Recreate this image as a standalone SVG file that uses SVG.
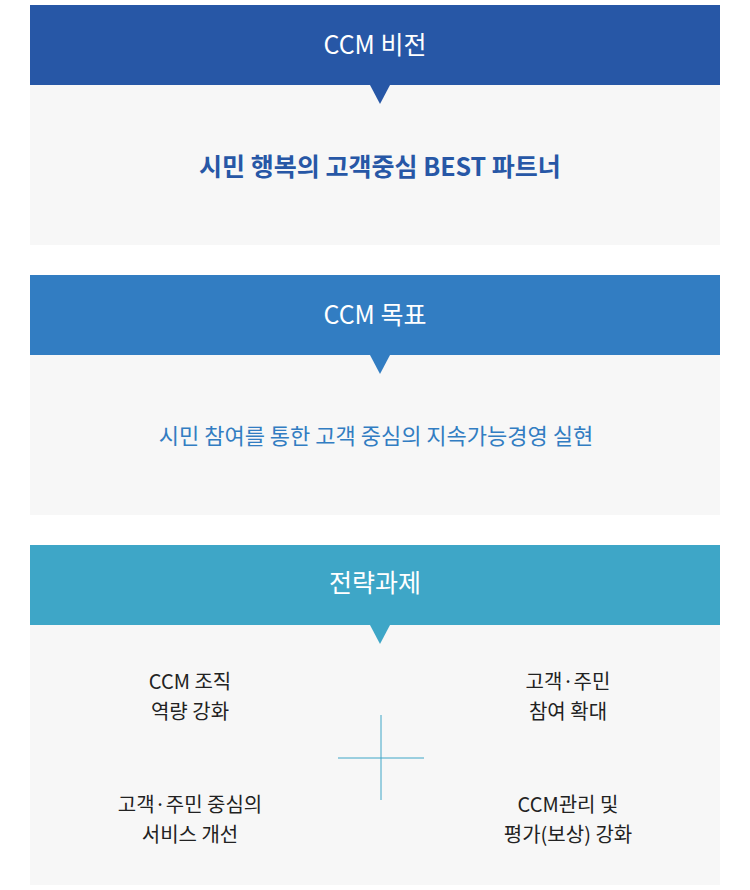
<svg xmlns="http://www.w3.org/2000/svg" width="750" height="890" viewBox="0 0 750 890">
<style>
.body{fill:#f7f7f7}
.h{font-family:"Noto Sans CJK KR","Noto Sans",sans-serif;font-size:25px;fill:#fff;text-anchor:middle}
.t{font-family:"Noto Sans CJK KR","Noto Sans",sans-serif;text-anchor:middle}
.s{font-family:"Noto Sans CJK KR","Noto Sans",sans-serif;font-size:20px;fill:#222;text-anchor:middle}
</style>
<rect width="750" height="890" fill="#fff"/>
<g id="vision">
<rect class="body" x="30" y="85" width="690" height="160"/>
<rect x="30" y="5" width="690" height="80" fill="#2757a6"/>
<polygon points="370,85 390,85 380,104" fill="#2757a6"/>
<text class="h" x="375" y="54">CCM 비전</text>
<text class="t" x="380" y="176" font-size="25" font-weight="bold" fill="#2757a6">시민 행복의 고객중심 BEST 파트너</text>
</g>
<g id="goal">
<rect class="body" x="30" y="355" width="690" height="160"/>
<rect x="30" y="275" width="690" height="80" fill="#327dc2"/>
<polygon points="370,355 390,355 380,374" fill="#327dc2"/>
<text class="h" x="375" y="324">CCM 목표</text>
<text class="t" x="376" y="444" font-size="22" fill="#327dc2">시민 참여를 통한 고객 중심의 지속가능경영 실현</text>
</g>
<g id="strategy">
<rect class="body" x="30" y="625" width="690" height="260"/>
<rect x="30" y="545" width="690" height="80" fill="#3ea6c7"/>
<polygon points="370,625 390,625 380,644" fill="#3ea6c7"/>
<text class="h" x="375" y="592">전략과제</text>
<text class="s" x="190" y="689">CCM 조직</text>
<text class="s" x="190" y="719">역량 강화</text>
<text class="s" x="568" y="689">고객·주민</text>
<text class="s" x="568" y="719">참여 확대</text>
<text class="s" x="190" y="812">고객·주민 중심의</text>
<text class="s" x="190" y="842">서비스 개선</text>
<text class="s" x="568" y="812">CCM관리 및</text>
<text class="s" x="568" y="842">평가(보상) 강화</text>
</g>
<g id="connectors" stroke="#3ea6c7" stroke-width="1">
<line x1="381" y1="715" x2="381" y2="800"/>
<line x1="338" y1="758" x2="424" y2="758"/>
</g>
</svg>
